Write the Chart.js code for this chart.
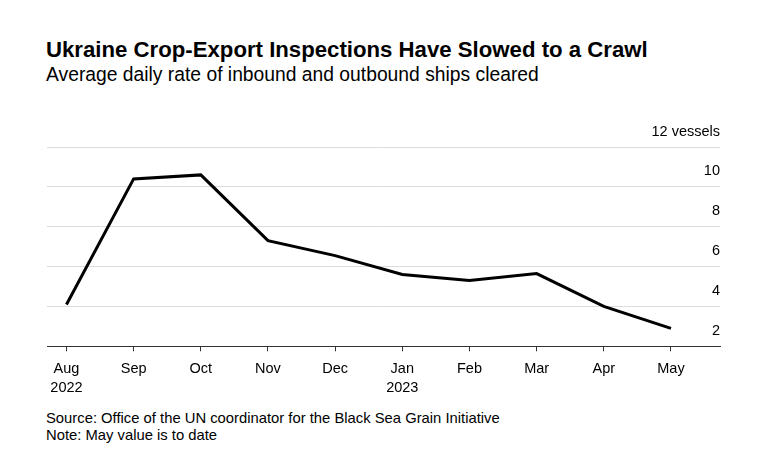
<!DOCTYPE html>
<html>
<head>
<meta charset="utf-8">
<script src="https://cdn.jsdelivr.net/npm/chart.js@4"></script>
<style>
  body { margin: 0; background: #fff; font-family: "Liberation Sans", Arial, sans-serif; }
  #wrap { position: relative; width: 764px; height: 466px; }
  .title { position: absolute; left: 46px; top: 37px; font-size: 22.2px; font-weight: bold; color: #000; white-space: nowrap; }
  .subtitle { position: absolute; left: 46px; top: 64px; font-size: 19.3px; color: #000; white-space: nowrap; }
  .note { position: absolute; left: 46px; top: 410px; font-size: 14.8px; line-height: 16.5px; color: #000; white-space: nowrap; }
  #box { position: absolute; left: 0; top: 110px; width: 764px; height: 295px; }
</style>
</head>
<body>
<div id="wrap">
  <div class="title">Ukraine Crop-Export Inspections Have Slowed to a Crawl</div>
  <div class="subtitle">Average daily rate of inbound and outbound ships cleared</div>
  <div id="box"><canvas id="chart"></canvas></div>
  <div class="note">Source: Office of the UN coordinator for the Black Sea Grain Initiative<br>Note: May value is to date</div>
</div>
<script>
const months = ["Aug", "Sep", "Oct", "Nov", "Dec", "Jan", "Feb", "Mar", "Apr", "May"];
const years = ["2022", "", "", "", "", "2023", "", "", "", ""];
const shipsCleared = [4.1, 10.4, 10.6, 7.3, 6.55, 5.6, 5.3, 5.65, 4.0, 2.9];
const yTicks = [2, 4, 6, 8, 10, 12];

const ctx = document.getElementById("chart").getContext("2d");
new Chart(ctx, {
  type: "line",
  data: {
    datasets: [
      {
        data: shipsCleared.map((v, i) => ({ x: i, y: v })),
        borderColor: "#000",
        borderWidth: 3,
        pointRadius: 0,
        tension: 0,
      },
    ],
  },
  options: {
    responsive: true,
    maintainAspectRatio: false,
    animation: false,
    layout: { padding: { left: 47, right: 44, top: 37, bottom: 0 } },
    plugins: { legend: { display: false }, tooltip: { enabled: false } },
    scales: {
      x: {
        type: "linear",
        min: -0.29,
        max: 9.73,
        afterBuildTicks: (scale) => {
          scale.ticks = months.map((m, i) => ({ value: i }));
        },
        grid: { drawOnChartArea: false, drawTicks: true, tickLength: 5, color: "#333" },
        border: { display: true, color: "#333", width: 1 },
        ticks: {
          padding: 8,
          color: "#000",
          maxRotation: 0,
          font: { family: "Liberation Sans", size: 14.5, lineHeight: 1.3 },
          callback: (v) => (years[v] ? [months[v], years[v]] : months[v]),
        },
      },
      y: {
        position: "right",
        min: 2,
        max: 12,
        afterBuildTicks: (scale) => {
          scale.ticks = yTicks.map((v) => ({ value: v }));
        },
        grid: { color: "#dcdcdc", lineWidth: 1, drawTicks: false },
        border: { display: false },
        ticks: {
          mirror: true,
          padding: 0,
          labelOffset: -15.5,
          color: "#000",
          font: { family: "Liberation Sans", size: 14.5 },
          callback: (v) => (v === 12 ? "12 vessels" : v),
        },
      },
    },
  },
});
</script>
</body>
</html>
